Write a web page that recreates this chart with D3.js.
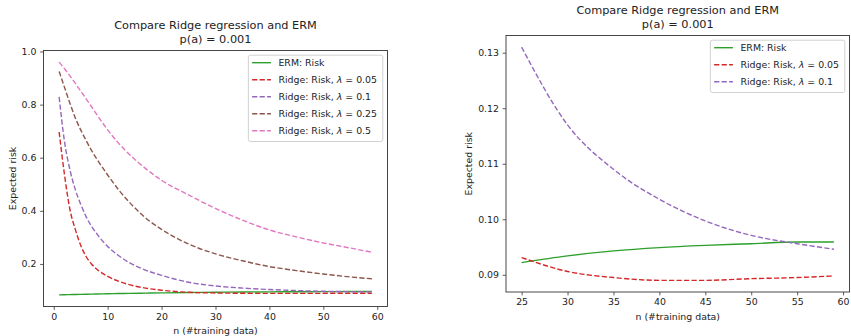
<!DOCTYPE html>
<html>
<head>
<meta charset="utf-8">
<script src="https://cdn.jsdelivr.net/npm/d3@7"></script>
<style>
  body { margin: 0; background: #fff; }
  svg { display: block; font-family: 'DejaVu Sans', sans-serif; }
</style>
</head>
<body>
<svg id="chart"></svg>
<script>
let width = 851
let height = 336

// --------------------------------------------------------------
// Data

const nValues = [1, 2, 3, 4, 5, 6, 7, 8, 10, 12, 14, 17, 20, 25, 30, 35, 40, 45, 50, 55, 59]

const ermRisk = [0.0835, 0.084, 0.0845, 0.085, 0.0855, 0.086, 0.0864, 0.0868, 0.0876, 0.0884, 0.0891, 0.09, 0.0909, 0.0922, 0.0934, 0.0943, 0.0949, 0.0953, 0.0956, 0.0959, 0.0959]
const ridgeRisk005 = [0.697, 0.535, 0.405, 0.33, 0.27, 0.228, 0.2, 0.18, 0.153, 0.135, 0.122, 0.109, 0.101, 0.0931, 0.0906, 0.0895, 0.089, 0.089, 0.0893, 0.0895, 0.0898]
const ridgeRisk01 = [0.829, 0.66, 0.555, 0.48, 0.425, 0.378, 0.342, 0.313, 0.266, 0.232, 0.205, 0.177, 0.157, 0.131, 0.117, 0.109, 0.1036, 0.0997, 0.0971, 0.0956, 0.0946]
const ridgeRisk025 = [0.925, 0.865, 0.805, 0.75, 0.705, 0.665, 0.628, 0.595, 0.535, 0.48, 0.433, 0.374, 0.33, 0.275, 0.238, 0.212, 0.19, 0.175, 0.162, 0.151, 0.144]
const ridgeRisk05 = [0.96, 0.935, 0.908, 0.88, 0.851, 0.822, 0.792, 0.762, 0.705, 0.655, 0.613, 0.56, 0.515, 0.46, 0.409, 0.365, 0.328, 0.302, 0.279, 0.26, 0.244]

const lambdas = ['0.05', '0.1', '0.25', '0.5']

const leftXTicks = [0, 10, 20, 30, 40, 50, 60]
const leftYTicks = [0.2, 0.4, 0.6, 0.8, 1.0]
const rightXTicks = [25, 30, 35, 40, 45, 50, 55, 60]
const rightYTicks = [0.09, 0.1, 0.11, 0.12, 0.13]

const titleLines = ['Compare Ridge regression and ERM', 'p(a) = 0.001']

const series = [
  { name: 'ERM: Risk', lambda: null, values: ermRisk, color: '#2ca02c', dashed: false },
  { name: 'Ridge: Risk, ', lambda: lambdas[0], values: ridgeRisk005, color: '#d62728', dashed: true },
  { name: 'Ridge: Risk, ', lambda: lambdas[1], values: ridgeRisk01, color: '#9467bd', dashed: true },
  { name: 'Ridge: Risk, ', lambda: lambdas[2], values: ridgeRisk025, color: '#8c564b', dashed: true },
  { name: 'Ridge: Risk, ', lambda: lambdas[3], values: ridgeRisk05, color: '#e377c2', dashed: true },
]

const svg = d3
  .select('#chart')
  .attr('width', width)
  .attr('height', height)
  .attr('viewBox', [0, 0, width, height])

const fs = 9.4 // 10pt text in the figure
const lw = 1.4

// --------------------------------------------------------------
// One panel

function drawPanel(opt) {
  const { left, top, w, h, lines, nMin, xTicks, yTicks, yFormat } = opt

  const rows = lines.map((s) => ({
    ...s,
    points: nValues
      .map((n, i) => ({ n: n, v: s.values[i] }))
      .filter((d) => d.n >= nMin),
  }))

  // matplotlib style 5% margins
  const nExt = d3.extent(rows.flatMap((s) => s.points), (d) => d.n)
  const vExt = d3.extent(rows.flatMap((s) => s.points), (d) => d.v)
  const nPad = (nExt[1] - nExt[0]) * 0.05
  const vPad = (vExt[1] - vExt[0]) * 0.05

  const x = d3
    .scaleLinear()
    .domain([nExt[0] - nPad, nExt[1] + nPad])
    .range([left, left + w])
  const y = d3
    .scaleLinear()
    .domain([vExt[0] - vPad, vExt[1] + vPad])
    .range([top + h, top])

  const g = svg.append('g')

  // axes
  const xAxis = g
    .append('g')
    .attr('transform', `translate(0,${top + h})`)
    .call(d3.axisBottom(x).tickValues(xTicks).tickSize(3.4).tickPadding(3.4).tickFormat(d3.format('d')))
  const yAxis = g
    .append('g')
    .attr('transform', `translate(${left},0)`)
    .call(d3.axisLeft(y).tickValues(yTicks).tickSize(3.4).tickPadding(3.6).tickFormat(yFormat))

  ;[xAxis, yAxis].forEach((a) => {
    a.select('.domain').remove()
    a.selectAll('line').attr('stroke', '#333').attr('stroke-width', 0.8)
    a.selectAll('text').attr('fill', '#222').style('font-size', fs + 'px').style('font-family', 'DejaVu Sans')
  })

  // lines
  const line = d3
    .line()
    .x((d) => x(d.n))
    .y((d) => y(d.v))
    .curve(d3.curveMonotoneX)

  g.append('g')
    .selectAll('path')
    .data(rows)
    .join('path')
    .attr('d', (d) => line(d.points))
    .attr('fill', 'none')
    .attr('stroke', (d) => d.color)
    .attr('stroke-width', lw)
    .attr('stroke-dasharray', (d) => (d.dashed ? '5.2 2.3' : null))

  // frame
  g.append('rect')
    .attr('x', left)
    .attr('y', top)
    .attr('width', w)
    .attr('height', h)
    .attr('fill', 'none')
    .attr('stroke', '#333')
    .attr('stroke-width', 0.9)

  // x label
  g.append('text')
    .attr('x', left + w / 2)
    .attr('y', top + h + 27.5)
    .attr('text-anchor', 'middle')
    .attr('fill', '#222')
    .style('font-size', fs + 'px')
    .text('n (#training data)')

  // y label, placed next to the tick labels
  const yb = yAxis.node().getBBox()
  const lx = left + yb.x - 3.8 - 2.2
  g.append('text')
    .attr('transform', `translate(${lx},${top + h / 2}) rotate(-90)`)
    .attr('text-anchor', 'middle')
    .attr('fill', '#222')
    .style('font-size', fs + 'px')
    .text('Expected risk')

  // title
  g.append('text')
    .attr('x', left + w / 2)
    .attr('y', top - 21.6)
    .attr('text-anchor', 'middle')
    .attr('fill', '#222')
    .style('font-size', '11.3px')
    .text(titleLines[0])
  g.append('text')
    .attr('x', left + w / 2)
    .attr('y', top - 7.3)
    .attr('text-anchor', 'middle')
    .attr('fill', '#222')
    .style('font-size', '11.3px')
    .text(titleLines[1])

  // --------------------------------------------------------------
  // legend
  const pad = 0.5 * fs
  const rowH = 17
  const lg = g.append('g')
  const frame = lg.append('rect')
  const items = lg.selectAll('g').data(rows).join('g')

  const labels = items
    .append('text')
    .attr('fill', '#222')
    .style('font-size', fs + 'px')
    .attr('y', (d, i) => i * rowH + 3.3)
  labels.append('tspan').text((d) => d.name)
  labels
    .filter((d) => d.lambda !== null)
    .append('tspan')
    .style('font-style', 'italic')
    .text('λ')
  labels
    .filter((d) => d.lambda !== null)
    .append('tspan')
    .text((d) => ' = ' + d.lambda)

  const textW = d3.max(labels.nodes(), (n) => n.getComputedTextLength())
  const boxW = 0.4 * fs + 2 * fs + 0.8 * fs + textW + 0.4 * fs + 2
  const boxH = 7.5 + (rows.length - 1) * rowH + 10.8
  const bx = left + w - pad - boxW
  const by = top + pad

  frame
    .attr('x', bx)
    .attr('y', by)
    .attr('width', boxW)
    .attr('height', boxH)
    .attr('rx', 2)
    .attr('fill', 'white')
    .attr('fill-opacity', 0.8)
    .attr('stroke', '#cccccc')
    .attr('stroke-width', 0.9)

  items.attr('transform', `translate(${bx},${by + 7.5})`)
  items
    .append('line')
    .attr('x1', 0.4 * fs)
    .attr('x2', 0.4 * fs + 2 * fs)
    .attr('y1', (d, i) => i * rowH)
    .attr('y2', (d, i) => i * rowH)
    .attr('stroke', (d) => d.color)
    .attr('stroke-width', lw)
    .attr('stroke-dasharray', (d) => (d.dashed ? '5.2 2.3' : null))
  labels.attr('x', 0.4 * fs + 2 * fs + 0.8 * fs)
}

// --------------------------------------------------------------
// Left: all series, right: zoom on n >= 25

drawPanel({
  left: 43.5,
  top: 50.5,
  w: 344,
  h: 256,
  lines: series,
  nMin: 1,
  xTicks: leftXTicks,
  yTicks: leftYTicks,
  yFormat: d3.format('.1f'),
})

drawPanel({
  left: 506,
  top: 35.5,
  w: 343.5,
  h: 256.5,
  lines: series.slice(0, 3),
  nMin: 25,
  xTicks: rightXTicks,
  yTicks: rightYTicks,
  yFormat: d3.format('.2f'),
})
</script>
</body>
</html>
